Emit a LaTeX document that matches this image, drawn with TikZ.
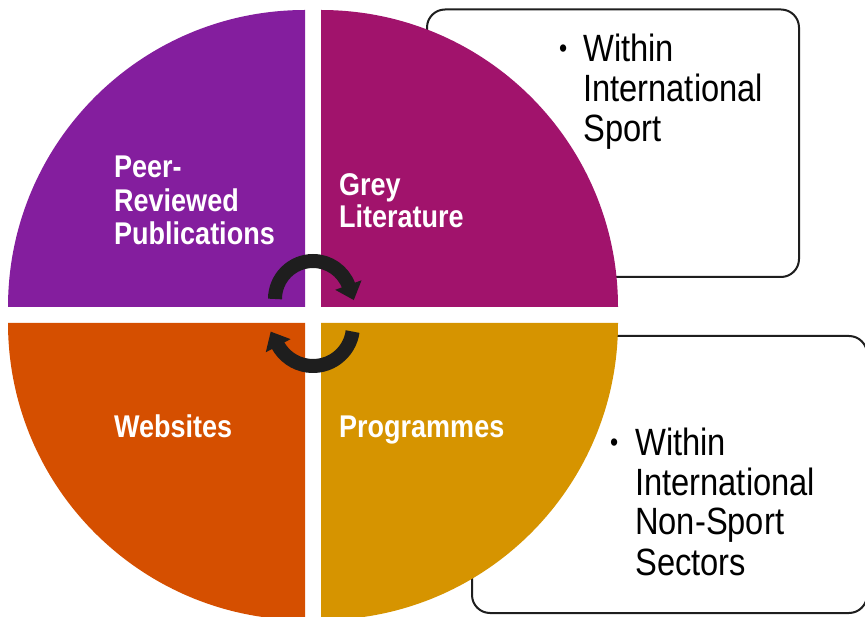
\documentclass[tikz,border=0pt]{standalone}
\usepackage{fontspec}
\setmainfont[FakeStretch=0.86]{Liberation Sans}
\usetikzlibrary{arrows.meta}
\definecolor{cpurple}{RGB}{132,30,158}
\definecolor{cmagenta}{RGB}{161,19,108}
\definecolor{corange}{RGB}{213,79,0}
\definecolor{cgold}{RGB}{214,148,0}
\definecolor{cline}{RGB}{30,30,30}
\tikzset{
  infobox/.style={draw=cline, line width=2, rounded corners=18, fill=white},
  lbl/.style={inner sep=0, anchor=base west, text=white, font=\fontsize{31.4}{34}\selectfont\bfseries},
  boxtxt/.style={inner sep=0, anchor=base west, text=black, font=\fontsize{38}{40}\selectfont},
  bul/.style={inner sep=0, anchor=base west, text=black, font=\fontsize{27}{30}\selectfont},
  cyc/.style={draw=cline, line width=14, -{Triangle[width=27,length=16]}}
}
\begin{document}
\begin{tikzpicture}[x=1pt,y=-1pt]
\useasboundingbox (0,0) rectangle (865,617);
\clip (0,0) rectangle (865,617);
% info boxes (behind circle)
\draw[infobox] (427,9.5) rectangle (799,277);
\draw[infobox] (472,336) rectangle (867,613);
% quadrants
\fill[cpurple] (305,307) -- ++(-297,0) arc (180:270:297) -- cycle;
\fill[cmagenta] (321,307) -- ++(0,-297) arc (270:360:297) -- cycle;
\fill[corange] (305,323) -- ++(0,297) arc (90:180:297) -- cycle;
\fill[cgold] (321,323) -- ++(297,0) arc (0:90:297) -- cycle;
% cycle arrows
\coordinate (ctop) at (313,299);
\coordinate (cbot) at (313,326);
\draw[cyc] (ctop) ++(180:38) arc (180:340:38) -- ++(5.1,14.1);
\draw[cyc] (cbot) ++(8:40) arc (8:152:40) -- ++(-7,-13.2);
% quadrant labels
\node[lbl] (p1) at (114,178) {Peer-};
\node[lbl] (p2) at (114,212) {Reviewed};
\node[lbl] (p3) at (114,245) {Publications};
\node[lbl] (g1) at (339,196) {Grey};
\node[lbl] (g2) at (339,228) {Literature};
\node[lbl] (w1) at (114,438) {Websites};
\node[lbl] (r1) at (339,438) {Programmes};
% box 1 text
\node[bul] (b1b) at (559,58) {\textbullet};
\node[boxtxt] (b1a) at (583,62) {Within};
\node[boxtxt] (b1c) at (583,102) {International};
\node[boxtxt] (b1d) at (583,142) {Sport};
% box 2 text
\node[bul] (b2b) at (610,451) {\textbullet};
\node[boxtxt] (b2a) at (635,455) {Within};
\node[boxtxt] (b2c) at (635,495) {International};
\node[boxtxt] (b2d) at (635,534) {Non-Sport};
\node[boxtxt] (b2e) at (635,575) {Sectors};
\end{tikzpicture}
\end{document}
